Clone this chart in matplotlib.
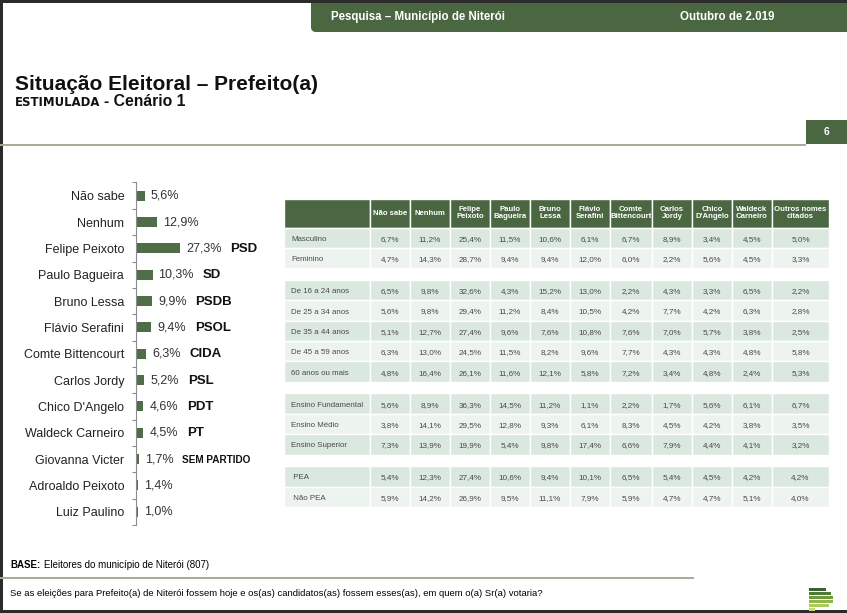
import matplotlib.pyplot as plt
from matplotlib.patches import Rectangle, FancyBboxPatch
import numpy as np

plt.rcParams['font.family'] = ['Liberation Sans', 'DejaVu Sans']

# bar chart data
candidates = ['Não sabe', 'Nenhum', 'Felipe Peixoto', 'Paulo Bagueira', 'Bruno Lessa',
              'Flávio Serafini', 'Comte Bittencourt', 'Carlos Jordy', "Chico D'Angelo",
              'Waldeck Carneiro', 'Giovanna Victer', 'Adroaldo Peixoto', 'Luiz Paulino']
votes = [5.6, 12.9, 27.3, 10.3, 9.9, 9.4, 6.3, 5.2, 4.6, 4.5, 1.7, 1.4, 1.0]
parties = ['', '', 'PSD', 'SD', 'PSDB', 'PSOL', 'CIDA', 'PSL', 'PDT', 'PT', 'SEM PARTIDO', '', '']

# table data
table_cols = ['Não sabe', 'Nenhum', 'Felipe\nPeixoto', 'Paulo\nBagueira', 'Bruno\nLessa',
              'Flávio\nSerafini', 'Comte\nBittencourt', 'Carlos\nJordy', "Chico\nD'Angelo",
              'Waldeck\nCarneiro', 'Outros nomes\ncitados']
sexo_rows = ['Masculino', 'Feminino']
sexo_vals = [[6.7, 11.2, 25.4, 11.5, 10.6, 6.1, 6.7, 8.9, 3.4, 4.5, 5.0],
             [4.7, 14.3, 28.7, 9.4, 9.4, 12.0, 6.0, 2.2, 5.6, 4.5, 3.3]]
idade_rows = ['De 16 a 24 anos', 'De 25 a 34 anos', 'De 35 a 44 anos', 'De 45 a 59 anos', '60 anos ou mais']
idade_vals = [[6.5, 9.8, 32.6, 4.3, 15.2, 13.0, 2.2, 4.3, 3.3, 6.5, 2.2],
              [5.6, 9.8, 29.4, 11.2, 8.4, 10.5, 4.2, 7.7, 4.2, 6.3, 2.8],
              [5.1, 12.7, 27.4, 9.6, 7.6, 10.8, 7.6, 7.0, 5.7, 3.8, 2.5],
              [6.3, 13.0, 24.5, 11.5, 8.2, 9.6, 7.7, 4.3, 4.3, 4.8, 5.8],
              [4.8, 16.4, 26.1, 11.6, 12.1, 5.8, 7.2, 3.4, 4.8, 2.4, 5.3]]
ensino_rows = ['Ensino Fundamental', 'Ensino Médio', 'Ensino Superior']
ensino_vals = [[5.6, 8.9, 36.3, 14.5, 11.2, 1.1, 2.2, 1.7, 5.6, 6.1, 6.7],
               [3.8, 14.1, 29.5, 12.8, 9.3, 6.1, 8.3, 4.5, 4.2, 3.8, 3.5],
               [7.3, 13.9, 19.9, 5.4, 9.8, 17.4, 6.6, 7.9, 4.4, 4.1, 3.2]]
pea_rows = [' PEA', ' Não PEA']
pea_vals = [[5.4, 12.3, 27.4, 10.6, 9.4, 10.1, 6.5, 5.4, 4.5, 4.2, 4.2],
            [5.9, 14.2, 26.9, 9.5, 11.1, 7.9, 5.9, 4.7, 4.7, 5.1, 4.0]]

GREEN = '#4a6741'
ROW_DARK = '#dbe8df'
ROW_LIGHT = '#edf4ef'
LINE_GRAY = '#a5ab9b'

def pct(v):
    return ('%.1f%%' % v).replace('.', ',')

fig = plt.figure(figsize=(8.47, 6.13), dpi=100)
bg = fig.add_axes([0, 0, 1, 1])
bg.set_xlim(0, 847)
bg.set_ylim(613, 0)
bg.axis('off')

# page frame
bg.add_patch(FancyBboxPatch((311, -20), 600, 52, boxstyle='round,pad=0,rounding_size=5',
                            facecolor=GREEN, edgecolor='none'))
bg.add_patch(Rectangle((0, 0), 847, 3, facecolor='#2b2b2b', edgecolor='none'))
bg.add_patch(Rectangle((0, 0), 2.5, 613, facecolor='#2b2b2b', edgecolor='none'))
bg.add_patch(Rectangle((0, 609.5), 847, 4, facecolor='#2b2b2b', edgecolor='none'))
bg.text(331, 17, 'Pesquisa – Município de Niterói', color='white', fontsize=8.3,
        fontweight='bold', va='center', ha='left')
bg.text(680, 17, 'Outubro de 2.019', color='white', fontsize=8.3,
        fontweight='bold', va='center', ha='left')

# titles
bg.text(15, 89.5, 'Situação Eleitoral – Prefeito(a)', fontsize=15, fontweight='bold',
        va='baseline', ha='left', color='#111111')
bg.text(15, 106.5, 'ESTIMULADA', fontsize=8.4, fontweight='bold', family='DejaVu Sans',
        va='baseline', ha='left', color='#111111')
bg.text(104, 106.5, '- Cenário 1', fontsize=11.3, fontweight='bold',
        va='baseline', ha='left', color='#111111')
bg.plot([0, 806], [144.5, 144.5], color=LINE_GRAY, lw=1.4, solid_capstyle='butt')
bg.add_patch(Rectangle((806, 120), 41, 23.5, facecolor=GREEN, edgecolor='none'))
bg.text(827, 132, '6', color='white', fontsize=7.5, fontweight='bold', ha='center', va='center')

# table
col_edges = [284, 370, 410, 450, 490, 530, 570, 610, 652, 692, 732, 772, 829]
head_top, head_bot = 199, 227.5
row_h = 20.4
group_gap = 11.6
for j in range(len(col_edges) - 1):
    bg.add_patch(Rectangle((col_edges[j], head_top), col_edges[j + 1] - col_edges[j],
                           head_bot - head_top, facecolor=GREEN, edgecolor='white', lw=1.0))
for j, name in enumerate(table_cols):
    cx = (col_edges[j + 1] + col_edges[j + 2]) / 2
    bg.text(cx, (head_top + head_bot) / 2, name, color='white', fontsize=5.6,
            fontweight='bold', ha='center', va='center', linespacing=1.0)

groups = [(sexo_rows, sexo_vals), (idade_rows, idade_vals),
          (ensino_rows, ensino_vals), (pea_rows, pea_vals)]
y = head_bot
for rows, vals in groups:
    for i, (label, rvals) in enumerate(zip(rows, vals)):
        fc = ROW_DARK if i % 2 == 0 else ROW_LIGHT
        for j in range(len(col_edges) - 1):
            bg.add_patch(Rectangle((col_edges[j], y), col_edges[j + 1] - col_edges[j], row_h,
                                   facecolor=fc, edgecolor='white', lw=1.0))
        cy = y + row_h / 2 + 0.5
        bg.text(291, cy, label, fontsize=5.7, color='#4a4a4a', ha='left', va='center_baseline')
        for j, v in enumerate(rvals):
            cx = (col_edges[j + 1] + col_edges[j + 2]) / 2
            bg.text(cx, cy, pct(v), fontsize=5.9, color='#4a4a4a', ha='center',
                    va='center_baseline')
        y += row_h
    y += group_gap

# footer
narrow = ['Liberation Sans Narrow', 'Liberation Sans']
tb = bg.text(10, 565, 'BASE:', fontsize=7, fontweight='bold', family=narrow,
             va='center', ha='left')
bg.annotate('Eleitores do município de Niterói (807)', xy=(1, 0.5), xycoords=tb,
            xytext=(2.5, 0), textcoords='offset points', fontsize=7, family=narrow,
            va='center', ha='left')
bg.plot([0, 694], [578, 578], color=LINE_GRAY, lw=1.4, solid_capstyle='butt')
bg.text(10, 593, 'Se as eleições para Prefeito(a) de Niterói fossem hoje e os(as) candidatos(as) '
        'fossem esses(as), em quem o(a) Sr(a) votaria?', fontsize=6.8, family=narrow,
        va='center', ha='left')

# logo
logo_colors = ['#3e5f2f', '#4f7a35', '#6e9a3e', '#8fb84a', '#a9cc5a', '#c3dc75']
logo_widths = [17, 22, 24, 24, 20, 6]
for k, (c, w) in enumerate(zip(logo_colors, logo_widths)):
    bg.add_patch(Rectangle((809, 588 + 4 * k), w, 3.3, facecolor=c, edgecolor='none'))

# bar chart
top_px, bot_px = 182.5, 525
ax = fig.add_axes([136 / 847, 1 - bot_px / 613, 161 / 847, (bot_px - top_px) / 613])
pos = np.arange(len(candidates))
ax.barh(pos, votes, height=0.38, color='#4f6e47')
ax.set_ylim(len(candidates) - 0.5, -0.5)
ax.set_xlim(0, 100)
ax.set_yticks(pos)
ax.set_yticklabels(candidates, fontsize=9, color='#222222')
ax.set_yticks(np.arange(-0.5, len(candidates), 1), minor=True)
ax.tick_params(axis='y', which='major', length=0, pad=8.5)
ax.tick_params(axis='y', which='minor', length=3, color='#8c8c8c', width=0.8)
ax.set_xticks([])
for s in ['top', 'right', 'bottom']:
    ax.spines[s].set_visible(False)
ax.spines['left'].set_color('#8c8c8c')
ax.spines['left'].set_linewidth(0.8)
ax.patch.set_alpha(0)

for i, (v, p) in enumerate(zip(votes, parties)):
    t = ax.annotate(pct(v), xy=(v, i), xytext=(4.3, 0), textcoords='offset points',
                    fontsize=9, color='#333333', va='center', ha='left')
    if p:
        fs = 7.2 if len(p) > 5 else 9.5
        ax.annotate(p, xy=(1, 0.45), xycoords=t, xytext=(6.5, 0), textcoords='offset points',
                    fontsize=fs, fontweight='bold', color='#111111', va='center', ha='left')

fig.savefig('out.png', dpi=100)
